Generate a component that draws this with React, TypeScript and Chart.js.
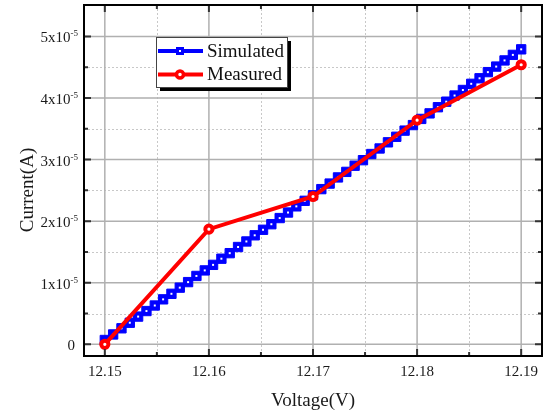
import React, { useEffect, useRef } from "react";
import { Chart, registerables } from "chart.js";

Chart.register(...registerables);

// Voltage (V) sampled for the simulated curve
const simVoltage = [
  12.15, 12.1508, 12.1516, 12.1524, 12.1532, 12.154, 12.1548, 12.1556, 12.1564, 12.1572,
  12.158, 12.1588, 12.1596, 12.1604, 12.1612, 12.162, 12.1628, 12.1636, 12.1644, 12.1652,
  12.166, 12.1668, 12.1676, 12.1684, 12.1692, 12.17, 12.1708, 12.1716, 12.1724, 12.1732,
  12.174, 12.1748, 12.1756, 12.1764, 12.1772, 12.178, 12.1788, 12.1796, 12.1804, 12.1812,
  12.182, 12.1828, 12.1836, 12.1844, 12.1852, 12.186, 12.1868, 12.1876, 12.1884, 12.1892,
  12.19,
];
// Simulated current in units of 1e-5 A
const simCurrent = [
  0.07, 0.16, 0.26, 0.35, 0.45, 0.54, 0.63, 0.73, 0.82, 0.92,
  1.01, 1.11, 1.2, 1.29, 1.39, 1.48, 1.58, 1.67, 1.77, 1.86,
  1.95, 2.05, 2.14, 2.24, 2.33, 2.42, 2.52, 2.61, 2.71, 2.8,
  2.9, 2.99, 3.09, 3.18, 3.28, 3.37, 3.47, 3.56, 3.66, 3.75,
  3.85, 3.94, 4.04, 4.13, 4.23, 4.32, 4.42, 4.51, 4.61, 4.7,
  4.79,
];
// Measured points
const measVoltage = [12.15, 12.16, 12.17, 12.18, 12.19];
const measCurrent = [0.0, 1.87, 2.4, 3.64, 4.54];

// Axis ticks
const xMajorTicks = [12.15, 12.16, 12.17, 12.18, 12.19];
const xMinorTicks = [12.155, 12.165, 12.175, 12.185];
const xTickLabels = ["12.15", "12.16", "12.17", "12.18", "12.19"];
const yMajorTicks = [0, 1, 2, 3, 4, 5];
const yMinorTicks = [0.5, 1.5, 2.5, 3.5, 4.5];
const yTickMantissa = ["0", "1x10", "2x10", "3x10", "4x10", "5x10"];
const yTickExponent = "-5";

const xTitle = "Voltage(V)";
const yTitle = "Current(A)";
const legendLabels = ["Simulated", "Measured"];

const SERIF = '"Liberation Serif", "Times New Roman", serif';
const BLUE = "#0000ff";
const RED = "#ff0000";

const decorPlugin = {
  id: "decor",
  beforeDatasetsDraw(chart: any) {
    const { ctx, chartArea, scales } = chart;
    const { left, right, top, bottom } = chartArea;
    const xs = scales.x;
    const ys = scales.y;
    ctx.save();
    // minor grid (dotted)
    ctx.strokeStyle = "#c8c8c8";
    ctx.lineWidth = 1;
    ctx.setLineDash([2, 2]);
    ctx.beginPath();
    xMinorTicks.forEach((v) => {
      const px = Math.round(xs.getPixelForValue(v)) + 0.5;
      ctx.moveTo(px, top);
      ctx.lineTo(px, bottom);
    });
    yMinorTicks.forEach((v) => {
      const py = Math.round(ys.getPixelForValue(v)) + 0.5;
      ctx.moveTo(left, py);
      ctx.lineTo(right, py);
    });
    ctx.stroke();
    // major grid
    ctx.setLineDash([]);
    ctx.strokeStyle = "#b0b0b0";
    ctx.lineWidth = 1.5;
    ctx.beginPath();
    xMajorTicks.forEach((v) => {
      const px = xs.getPixelForValue(v);
      ctx.moveTo(px, top);
      ctx.lineTo(px, bottom);
    });
    yMajorTicks.forEach((v) => {
      const py = ys.getPixelForValue(v);
      ctx.moveTo(left, py);
      ctx.lineTo(right, py);
    });
    ctx.stroke();
    ctx.restore();
  },
  afterDatasetsDraw(chart: any) {
    const { ctx, chartArea, scales } = chart;
    const { left, right, top, bottom } = chartArea;
    const xs = scales.x;
    const ys = scales.y;
    ctx.save();
    // ticks (inward)
    ctx.strokeStyle = "#333";
    ctx.lineWidth = 2;
    ctx.beginPath();
    const MAJ = 7;
    const MIN = 4;
    xMajorTicks.forEach((v) => {
      const px = xs.getPixelForValue(v);
      ctx.moveTo(px, bottom);
      ctx.lineTo(px, bottom - MAJ);
      ctx.moveTo(px, top);
      ctx.lineTo(px, top + MAJ);
    });
    xMinorTicks.forEach((v) => {
      const px = xs.getPixelForValue(v);
      ctx.moveTo(px, bottom);
      ctx.lineTo(px, bottom - MIN);
      ctx.moveTo(px, top);
      ctx.lineTo(px, top + MIN);
    });
    yMajorTicks.forEach((v) => {
      const py = ys.getPixelForValue(v);
      ctx.moveTo(left, py);
      ctx.lineTo(left + MAJ, py);
      ctx.moveTo(right, py);
      ctx.lineTo(right - MAJ, py);
    });
    yMinorTicks.forEach((v) => {
      const py = ys.getPixelForValue(v);
      ctx.moveTo(left, py);
      ctx.lineTo(left + MIN, py);
      ctx.moveTo(right, py);
      ctx.lineTo(right - MIN, py);
    });
    ctx.stroke();
    // frame
    ctx.strokeStyle = "#000";
    ctx.lineWidth = 2;
    ctx.strokeRect(left, top, right - left, bottom - top);

    // x tick labels
    ctx.fillStyle = "#1a1a1a";
    ctx.font = `15px ${SERIF}`;
    ctx.textAlign = "center";
    ctx.textBaseline = "middle";
    xMajorTicks.forEach((v, i) => {
      ctx.fillText(xTickLabels[i], xs.getPixelForValue(v), bottom + 16);
    });
    // y tick labels with superscript
    ctx.textBaseline = "alphabetic";
    const rightEdge = left - 6;
    yMajorTicks.forEach((v, i) => {
      const py = ys.getPixelForValue(v);
      if (v === 0) {
        ctx.font = `15px ${SERIF}`;
        ctx.textAlign = "right";
        ctx.fillText(yTickMantissa[i], rightEdge - 3, py + 6);
        return;
      }
      ctx.font = `9px ${SERIF}`;
      const w2 = ctx.measureText(yTickExponent).width;
      ctx.textAlign = "right";
      ctx.fillText(yTickExponent, rightEdge, py);
      ctx.font = `15px ${SERIF}`;
      ctx.fillText(yTickMantissa[i], rightEdge - w2, py + 6);
    });

    // axis titles
    ctx.font = `19px ${SERIF}`;
    ctx.textAlign = "center";
    ctx.textBaseline = "middle";
    ctx.fillText(xTitle, (left + right) / 2, 401);
    ctx.save();
    ctx.translate(28, 190);
    ctx.rotate(-Math.PI / 2);
    ctx.fillText(yTitle, 0, 0);
    ctx.restore();

    // legend
    const bx = 156, by = 37, bw = 131, bh = 50;
    ctx.fillStyle = "#000";
    ctx.fillRect(bx + 4, by + 4, bw, bh);
    ctx.fillStyle = "#fff";
    ctx.fillRect(bx, by, bw, bh);
    ctx.strokeStyle = "#444";
    ctx.lineWidth = 1;
    ctx.strokeRect(bx + 0.5, by + 0.5, bw, bh);

    const rows = [51, 74.5];
    // simulated row
    ctx.strokeStyle = BLUE;
    ctx.lineWidth = 4;
    ctx.beginPath();
    ctx.moveTo(158, rows[0]);
    ctx.lineTo(203, rows[0]);
    ctx.stroke();
    ctx.fillStyle = BLUE;
    ctx.fillRect(176, rows[0] - 4, 8, 8);
    ctx.fillStyle = "#fff";
    ctx.fillRect(179, rows[0] - 1, 2, 2);
    // measured row
    ctx.strokeStyle = RED;
    ctx.lineWidth = 4;
    ctx.beginPath();
    ctx.moveTo(158, rows[1]);
    ctx.lineTo(203, rows[1]);
    ctx.stroke();
    ctx.beginPath();
    ctx.arc(180, rows[1], 3.5, 0, Math.PI * 2);
    ctx.fillStyle = "#fff";
    ctx.fill();
    ctx.lineWidth = 3.5;
    ctx.strokeStyle = RED;
    ctx.stroke();

    ctx.fillStyle = "#111";
    ctx.font = `19px ${SERIF}`;
    ctx.textAlign = "left";
    ctx.textBaseline = "middle";
    ctx.fillText(legendLabels[0], 207, rows[0] + 1);
    ctx.fillText(legendLabels[1], 207, rows[1] + 1);
    ctx.restore();
  },
};

export default function App() {
  const canvasRef = useRef<HTMLCanvasElement | null>(null);

  useEffect(() => {
    const canvas = canvasRef.current;
    if (!canvas) return;
    const simData = simVoltage.map((x, i) => ({ x, y: simCurrent[i] }));
    const measData = measVoltage.map((x, i) => ({ x, y: measCurrent[i] }));
    const chart = new Chart(canvas, {
      type: "line",
      data: {
        datasets: [
          {
            label: legendLabels[1],
            data: measData,
            borderColor: RED,
            borderWidth: 4,
            pointStyle: "circle",
            pointRadius: 3.6,
            pointBorderWidth: 4,
            pointBackgroundColor: "#fff",
            pointBorderColor: RED,
            order: 0,
          },
          {
            label: "sim-centers",
            data: simData,
            showLine: false,
            pointStyle: "rect",
            pointRadius: 1.4,
            pointBorderWidth: 0,
            pointBackgroundColor: "#fff",
            pointBorderColor: "#fff",
            order: 1,
          },
          {
            label: legendLabels[0],
            data: simData,
            borderColor: BLUE,
            borderWidth: 3,
            pointStyle: "rect",
            pointRadius: 6.6,
            pointBorderWidth: 1,
            pointBackgroundColor: BLUE,
            pointBorderColor: BLUE,
            order: 2,
          },
        ],
      },
      options: {
        responsive: false,
        animation: false,
        events: [],
        layout: { autoPadding: false, padding: { left: 84, top: 5, right: 3, bottom: 62 } },
        plugins: { legend: { display: false }, tooltip: { enabled: false } },
        scales: {
          x: { type: "linear", min: 12.148, max: 12.192, display: false },
          y: { type: "linear", min: -0.19, max: 5.51, display: false },
        },
      },
      plugins: [decorPlugin],
    });
    return () => chart.destroy();
  }, []);

  return (
    <div style={{ position: "fixed", left: 0, top: 0, width: 545, height: 418, background: "#fff" }}>
      <canvas ref={canvasRef} width={545} height={418} style={{ width: 545, height: 418, display: "block" }} />
    </div>
  );
}
